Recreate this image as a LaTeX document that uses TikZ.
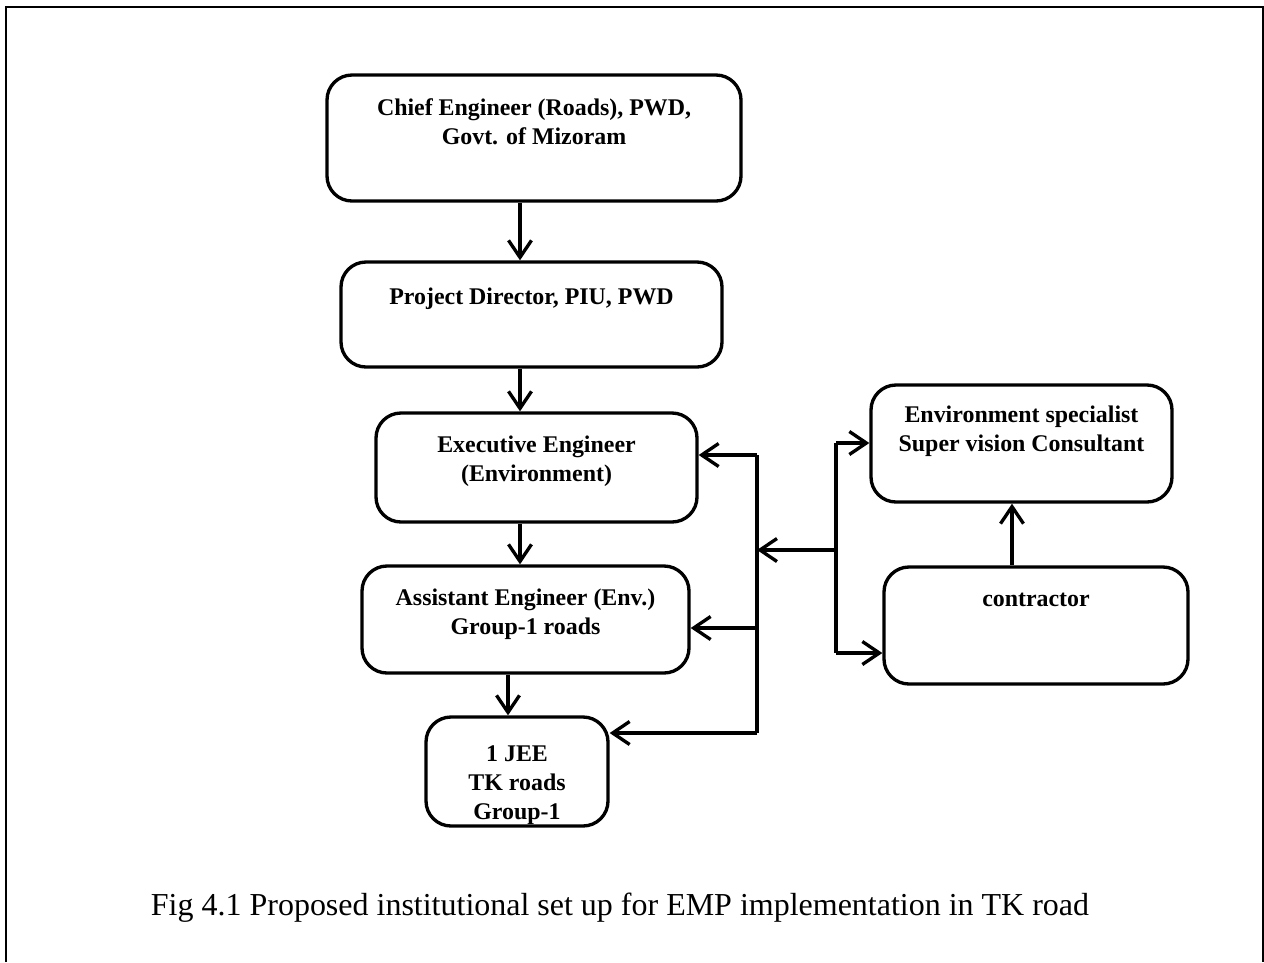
\documentclass[tikz,border=0pt]{standalone}
\usepackage{fontspec}
\setmainfont{Liberation Serif}
\usetikzlibrary{arrows.meta}

\tikzset{
  box/.style={draw, line width=1.9pt, rounded corners=0.5cm},
  boxtext/.style={anchor=north, align=center, inner sep=0pt,
    font=\fontsize{13.6}{16.4}\selectfont\bfseries},
  arr/.style={line width=1.9pt, -{Straight Barb[length=3.4mm, width=4.6mm]}},
}

\begin{document}
\begin{tikzpicture}
		\useasboundingbox (0,0) rectangle (25.28,-19.24);
		% Frame (open at the bottom)
		\draw[line width=1.3pt] (0.12,-19.24) -- (0.12,-0.14) -- (25.26,-0.14) -- (25.26,-19.24);

		% Boxes
		\node[box, minimum width=8.28cm, minimum height=2.52cm] (ce) at (10.68,-2.76) {};
		\node[box, minimum width=7.62cm, minimum height=2.10cm] (pd) at (10.63,-6.29) {};
		\node[box, minimum width=6.42cm, minimum height=2.18cm] (ee) at (10.73,-9.35) {};
		\node[box, minimum width=6.54cm, minimum height=2.14cm] (ae) at (10.51,-12.39) {};
		\node[box, minimum width=3.64cm, minimum height=2.18cm] (jee) at (10.34,-15.43) {};
		\node[box, minimum width=6.02cm, minimum height=2.34cm] (es) at (20.43,-8.87) {};
		\node[box, minimum width=6.08cm, minimum height=2.34cm] (con) at (20.72,-12.51) {};

		% Box texts
		\node[boxtext] (ce-t) at ([yshift=-0.50cm]ce.north) {Chief Engineer (Roads), PWD,\\Govt. of Mizoram};
		\node[boxtext] (pd-t) at ([yshift=-0.55cm]pd.north) {Project Director, PIU, PWD};
		\node[boxtext] (ee-t) at ([yshift=-0.49cm]ee.north) {Executive Engineer\\(Environment)};
		\node[boxtext] (ae-t) at ([yshift=-0.49cm]ae.north) {Assistant Engineer (Env.)\\Group-1 roads};
		\node[boxtext] (jee-t) at ([yshift=-0.60cm]jee.north) {1 JEE\\TK roads\\Group-1};
		\node[boxtext] (es-t) at ([yshift=-0.44cm]es.north) {Environment specialist\\Super vision Consultant};
		\node[boxtext] (con-t) at ([yshift=-0.54cm]con.north) {contractor};

		% Chain of command
		\coordinate (spine) at (10.40,0);
		\coordinate (spine2) at (10.16,0);
		\draw[arr] (ce.south -| spine) -- (pd.north -| spine);
		\draw[arr] (pd.south -| spine) -- (ee.north -| spine);
		\draw[arr] (ee.south -| spine) -- (ae.north -| spine);
		\draw[arr] (ae.south -| spine2) -- (jee.north -| spine2);

		% Left bus
		\coordinate (busT) at (15.14,-9.10);
		\coordinate (busM) at (15.14,-12.56);
		\coordinate (busB) at (15.14,-14.66);
		\draw[line width=1.9pt] (busT) -- (busB);
		\draw[arr] (busT) -- (ee.east |- busT);
		\draw[arr] (busM) -- (ae.east |- busM);
		\draw[arr] (busB) -- (jee.east |- busB);

		% Right bus
		\coordinate (rbT) at (16.72,-8.86);
		\coordinate (rbM) at (16.72,-11.00);
		\coordinate (rbB) at (16.72,-13.06);
		\draw[line width=1.9pt] (rbT) -- (rbB);
		\draw[arr] (rbM) -- (busT |- rbM);
		\draw[arr] (rbT) -- (es.west |- rbT);
		\draw[arr] (rbB) -- (con.west |- rbB);

		% Contractor reports up
		\coordinate (up) at (20.24,0);
		\draw[arr] (con.north -| up) -- (es.south -| up);

		% Caption
		\node[anchor=base, inner sep=0pt, font=\fontsize{18.2}{22}\selectfont] (cap) at (12.40,-18.30)
			{Fig 4.1 Proposed institutional set up for EMP implementation in TK road};
	\end{tikzpicture}
\end{document}
